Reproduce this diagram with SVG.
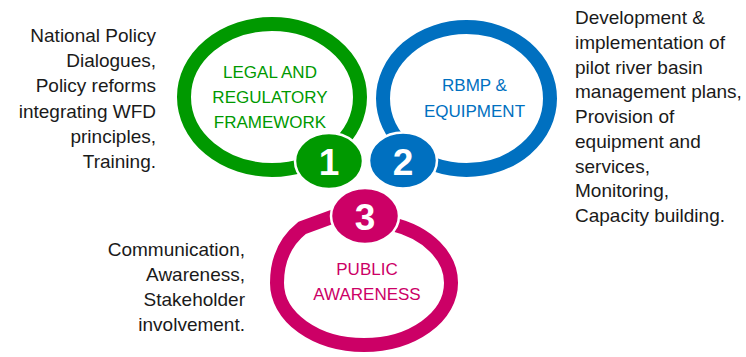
<svg xmlns="http://www.w3.org/2000/svg" width="746" height="357" viewBox="0 0 746 357">
<style>
.ring{fill:none;stroke-width:14}
.badge{stroke:#ffffff;stroke-width:2.5}
.num{font-family:"Liberation Sans",Arial,sans-serif;font-weight:bold;font-size:37px;fill:#ffffff;text-anchor:middle}
.lbl{font-family:"Liberation Sans",Arial,sans-serif;font-size:17px;text-anchor:middle}
.side{font-family:"Liberation Sans",Arial,sans-serif;font-size:19px;fill:#1a1a1a}
</style>
<rect width="746" height="357" fill="#ffffff"/>
<g id="node-public">
<path class="ring" stroke="#cc0066" d="M 302 228 Q 277 248 277 283 A 87 62 0 0 0 451 283 A 87 62 0 0 0 392 224 L 340 214 Z"/>
<text class="lbl" fill="#cc0066" x="367" y="275">PUBLIC</text>
<text class="lbl" fill="#cc0066" x="367" y="300">AWARENESS</text>
</g>
<g id="node-legal">
<ellipse class="ring" stroke="#009900" cx="272" cy="97" rx="88" ry="73"/>
<text class="lbl" fill="#009900" x="270" y="78">LEGAL AND</text>
<text class="lbl" fill="#009900" x="270" y="103">REGULATORY</text>
<text class="lbl" fill="#009900" x="270" y="128">FRAMEWORK</text>
</g>
<g id="node-rbmp">
<ellipse class="ring" stroke="#0070c0" cx="466.5" cy="98.5" rx="83.5" ry="71.5"/>
<text class="lbl" fill="#0070c0" x="474.5" y="91">RBMP &amp;</text>
<text class="lbl" fill="#0070c0" x="474.5" y="117">EQUIPMENT</text>
</g>
<g id="badge-1">
<ellipse class="badge" fill="#009900" cx="329" cy="161" rx="34" ry="28"/>
<text class="num" x="329" y="175">1</text>
</g>
<g id="badge-2">
<ellipse class="badge" fill="#0070c0" cx="403" cy="160.5" rx="34" ry="28"/>
<text class="num" x="403" y="175">2</text>
</g>
<g id="badge-3">
<ellipse class="badge" fill="#cc0066" cx="365" cy="216" rx="34" ry="28"/>
<text class="num" x="365" y="230">3</text>
</g>
<g id="connectors"></g>
<g id="text-legal" class="side" text-anchor="end">
<text class="side" text-anchor="end" x="156" y="42">National Policy</text>
<text class="side" text-anchor="end" x="156" y="67">Dialogues,</text>
<text class="side" text-anchor="end" x="156" y="92">Policy reforms</text>
<text class="side" text-anchor="end" x="156" y="118">integrating WFD</text>
<text class="side" text-anchor="end" x="156" y="143">principles,</text>
<text class="side" text-anchor="end" x="156" y="168">Training.</text>
</g>
<g id="text-rbmp">
<text class="side" x="575" y="24">Development &amp;</text>
<text class="side" x="575" y="49">implementation of</text>
<text class="side" x="575" y="74">pilot river basin</text>
<text class="side" x="575" y="98">management plans,</text>
<text class="side" x="575" y="123">Provision of</text>
<text class="side" x="575" y="148">equipment and</text>
<text class="side" x="575" y="173">services,</text>
<text class="side" x="575" y="197">Monitoring,</text>
<text class="side" x="575" y="222">Capacity building.</text>
</g>
<g id="text-public">
<text class="side" text-anchor="end" x="245" y="256">Communication,</text>
<text class="side" text-anchor="end" x="245" y="281">Awareness,</text>
<text class="side" text-anchor="end" x="245" y="306">Stakeholder</text>
<text class="side" text-anchor="end" x="245" y="331">involvement.</text>
</g>
</svg>
